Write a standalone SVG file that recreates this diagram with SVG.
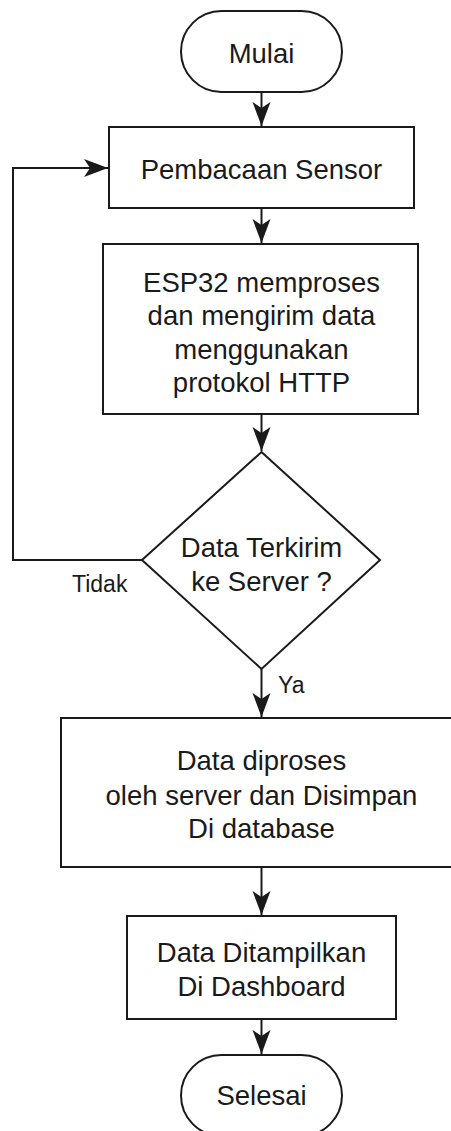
<svg xmlns="http://www.w3.org/2000/svg" width="451" height="1131" viewBox="0 0 451 1131">
  <style>
    .shape { fill: #ffffff; stroke: #1a1a1a; stroke-width: 2; }
    .edge { fill: none; stroke: #1a1a1a; stroke-width: 2; }
    .label { font-family: "Liberation Sans", Arial, sans-serif; font-size: 27.5px; fill: #1a1a1a; text-anchor: middle; dominant-baseline: central; }
    .small { font-family: "Liberation Sans", Arial, sans-serif; font-size: 23px; fill: #1a1a1a; dominant-baseline: central; }
  </style>
  <defs>
    <marker id="arrow" markerUnits="userSpaceOnUse" markerWidth="30" markerHeight="24" viewBox="-26 -12 30 24" refX="0" refY="0" orient="auto">
      <path d="M0,0 L-24,-9 L-18,0 L-24,9 Z" fill="#1a1a1a"/>
    </marker>
  </defs>
  <rect width="451" height="1131" fill="#ffffff"/>

  <g id="connectors">
    <path class="edge" d="M261.5,92 V126" marker-end="url(#arrow)"/>
    <path class="edge" d="M261.5,208 V243" marker-end="url(#arrow)"/>
    <path class="edge" d="M261.5,414 V451" marker-end="url(#arrow)"/>
    <path class="edge" d="M142,560 H13 V168 H108" marker-end="url(#arrow)"/>
    <path class="edge" d="M261.5,669 V717" marker-end="url(#arrow)"/>
    <path class="edge" d="M261.5,867 V915" marker-end="url(#arrow)"/>
    <path class="edge" d="M261.5,1019 V1054" marker-end="url(#arrow)"/>
    <text class="small" x="72" y="584">Tidak</text>
    <text class="small" x="278" y="685">Ya</text>
  </g>

  <g id="start">
    <rect class="shape" x="181" y="11" width="161" height="81" rx="40.5" ry="40.5"/>
    <text class="label" x="261.5" y="53">Mulai</text>
  </g>

  <g id="read-sensor">
    <rect class="shape" x="109" y="127" width="305" height="81"/>
    <text class="label" x="261.5" y="169">Pembacaan Sensor</text>
  </g>

  <g id="esp32-send">
    <rect class="shape" x="103" y="244" width="315" height="170"/>
    <text class="label" x="261.5" y="282">ESP32 memproses</text>
    <text class="label" x="261.5" y="315">dan mengirim data</text>
    <text class="label" x="261.5" y="349">menggunakan</text>
    <text class="label" x="261.5" y="382">protokol HTTP</text>
  </g>

  <g id="sent-check">
    <polygon class="shape" points="261.5,452 380,560 261.5,669 142,560"/>
    <text class="label" x="261.5" y="547">Data Terkirim</text>
    <text class="label" x="261.5" y="581">ke Server ?</text>
  </g>

  <g id="server-store">
    <rect class="shape" x="61" y="718" width="401" height="149"/>
    <text class="label" x="261.5" y="760">Data diproses</text>
    <text class="label" x="261.5" y="795">oleh server dan Disimpan</text>
    <text class="label" x="261.5" y="828">Di database</text>
  </g>

  <g id="dashboard">
    <rect class="shape" x="127" y="916" width="269" height="103"/>
    <text class="label" x="261.5" y="952">Data Ditampilkan</text>
    <text class="label" x="261.5" y="986">Di Dashboard</text>
  </g>

  <g id="end">
    <rect class="shape" x="181" y="1055" width="161" height="81" rx="40.5" ry="40.5"/>
    <text class="label" x="261.5" y="1095">Selesai</text>
  </g>
</svg>
